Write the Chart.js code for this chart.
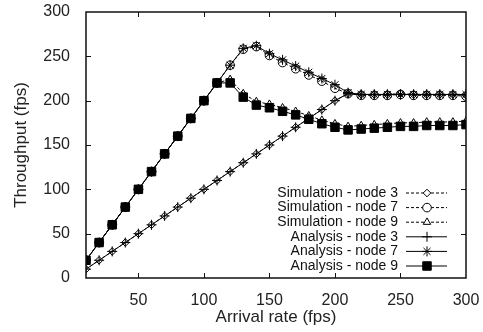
<!DOCTYPE html>
<html>
<head>
<meta charset="utf-8">
<script src="https://cdn.jsdelivr.net/npm/chart.js@4.4.1/dist/chart.umd.min.js"></script>
<style>
  html, body { margin: 0; padding: 0; background: #fff; }
</style>
</head>
<body>
<canvas id="chart" width="483" height="332"></canvas>
<script>
// arrival rate (fps)
const arrival = [10, 20, 30, 40, 50, 60, 70, 80, 90, 100, 110, 120, 130, 140, 150,
  160, 170, 180, 190, 200, 210, 220, 230, 240, 250, 260, 270, 280, 290, 300];

// throughput (fps)
const sim3 = [10, 20, 30, 40, 50, 60, 70, 80, 90, 100, 110, 120, 130, 140, 150,
  160, 170, 180, 190, 200, 208, 207, 207, 207, 208, 207, 207, 207, 207, 206];
const sim7 = [20, 40, 60, 80, 100, 120, 140, 160, 180, 200, 220, 240, 258, 261, 251,
  243, 236, 229, 222, 214, 208, 206, 206, 206, 207, 206, 206, 206, 206, 205];
const sim9 = [20, 40, 60, 80, 100, 120, 140, 160, 180, 200, 220, 224, 208, 199, 196,
  192, 188, 183, 178, 174, 171, 172, 173, 174, 175, 175, 176, 176, 176, 177];
const ana3 = [10, 20, 30, 40, 50, 60, 70, 80, 90, 100, 110, 120, 130, 140, 150,
  160, 170, 180, 190, 200, 208, 207, 207, 207, 207, 207, 207, 207, 207, 207];
const ana7 = [20, 40, 60, 80, 100, 120, 140, 160, 180, 200, 220, 240, 259, 262, 253,
  246, 239, 232, 225, 218, 209, 207, 207, 207, 207, 207, 207, 207, 207, 207];
const ana9 = [20, 40, 60, 80, 100, 120, 140, 160, 180, 200, 220, 220, 204, 195, 192,
  188, 184, 179, 174, 170, 167, 168, 169, 170, 171, 171, 172, 172, 172, 173];

const xTicks = [50, 100, 150, 200, 250, 300];
const yTicks = [0, 50, 100, 150, 200, 250, 300];

const pts = arr => arr.map((v, i) => ({ x: arrival[i], y: v }));

function series(label, values, style, radius, dashed, filled) {
  return {
    label: label,
    data: pts(values),
    borderColor: '#000',
    borderWidth: 1,
    borderDash: dashed ? [3, 2] : [],
    pointStyle: style,
    pointRadius: radius,
    pointHoverRadius: radius,
    pointBorderColor: '#000',
    pointBorderWidth: 1,
    pointBackgroundColor: filled ? '#000' : 'rgba(0,0,0,0)',
    fill: false,
    tension: 0
  };
}

const datasets = [
  series('Simulation - node 3', sim3, 'rectRot', 3.8, true, false),
  series('Simulation - node 7', sim7, 'circle', 4.3, true, false),
  series('Simulation - node 9', sim9, 'triangle', 4.3, true, false),
  series('Analysis - node 3', ana3, 'cross', 5, false, false),
  series('Analysis - node 7', ana7, 'star', 5, false, false),
  series('Analysis - node 9', ana9, 'rect', 6, false, true)
];

// frame with inward ticks + gnuplot style key
const frameAndKey = {
  id: 'frameAndKey',
  afterDatasetsDraw(chart) {
    const { ctx, chartArea: a, scales: { x, y } } = chart;
    const seg = (x1, y1, x2, y2) => { ctx.beginPath(); ctx.moveTo(x1, y1); ctx.lineTo(x2, y2); ctx.stroke(); };
    ctx.save();
    ctx.strokeStyle = '#111';
    ctx.lineWidth = 1.5;
    ctx.strokeRect(a.left, a.top, a.right - a.left, a.bottom - a.top);
    ctx.lineWidth = 1;
    xTicks.forEach(v => {
      if (v >= x.max) return;
      const px = Math.round(x.getPixelForValue(v)) + 0.5;
      seg(px, a.bottom, px, a.bottom - 5);
      seg(px, a.top, px, a.top + 5);
    });
    yTicks.forEach(v => {
      if (v <= y.min || v >= y.max) return;
      const py = Math.round(y.getPixelForValue(v)) + 0.5;
      seg(a.left, py, a.left + 5, py);
      seg(a.right, py, a.right - 5, py);
    });

    // key, bottom right inside the frame
    ctx.font = '14px "Liberation Sans", Arial, sans-serif';
    ctx.textAlign = 'right';
    ctx.textBaseline = 'middle';
    chart.data.datasets.forEach((ds, i) => {
      const ry = a.bottom - 12 - (5 - i) * 14.6;
      ctx.fillStyle = '#111';
      ctx.fillText(ds.label, a.right - 68, ry);
      ctx.strokeStyle = '#000';
      ctx.setLineDash(ds.borderDash);
      seg(a.right - 60, ry, a.right - 19, ry);
      ctx.setLineDash([]);
      ctx.fillStyle = ds.pointStyle === 'rect' ? '#000' : '#fff';
      Chart.helpers.drawPoint(ctx, { pointStyle: ds.pointStyle, radius: ds.pointRadius, rotation: 0, borderWidth: 1 }, a.right - 39, ry);
    });
    ctx.restore();
  }
};

new Chart(document.getElementById('chart'), {
  type: 'line',
  data: { datasets: datasets },
  options: {
    responsive: false,
    animation: false,
    devicePixelRatio: 1,
    layout: { padding: 0 },
    plugins: { legend: { display: false }, tooltip: { enabled: false } },
    scales: {
      x: {
        type: 'linear',
        min: 10,
        max: 300,
        afterFit: s => { s.height = 54; s.paddingLeft = 0; s.paddingRight = 17; },
        afterBuildTicks: s => { s.ticks = xTicks.map(v => ({ value: v })); },
        grid: { display: false },
        border: { display: false },
        ticks: { padding: 5, color: '#222', font: { family: '"Liberation Sans", Arial', size: 16 } },
        title: { display: true, text: 'Arrival rate (fps)', color: '#222', padding: { top: 0, bottom: 4 },
          font: { family: '"Liberation Sans", Arial', size: 17 } }
      },
      y: {
        min: 0,
        max: 300,
        afterFit: s => { s.width = 86; s.paddingTop = 12; s.paddingBottom = 0; },
        afterBuildTicks: s => { s.ticks = yTicks.map(v => ({ value: v })); },
        grid: { display: false },
        border: { display: false },
        ticks: { padding: 8, color: '#222', font: { family: '"Liberation Sans", Arial', size: 16 } },
        title: { display: true, text: 'Throughput (fps)', color: '#222', padding: { top: 11, bottom: 0 },
          font: { family: '"Liberation Sans", Arial', size: 17 } }
      }
    }
  },
  plugins: [frameAndKey]
});
</script>
</body>
</html>
